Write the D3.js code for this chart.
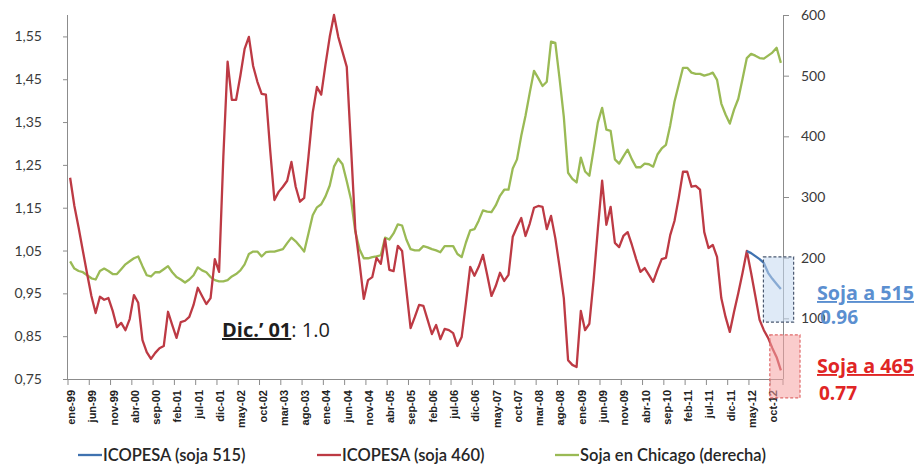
<!DOCTYPE html>
<html><head><meta charset="utf-8">
<script src="https://cdn.jsdelivr.net/npm/d3@7"></script>
<style>
html,body{margin:0;padding:0;background:#fff;}
svg{display:block;}
</style></head>
<body>
<svg id="chart" width="918" height="466"></svg>
<script>
// ---------- DATA ----------
const monthNames = ["ene","feb","mar","abr","may","jun","jul","ago","sep","oct","nov","dic"];
const years = ["99","00","01","02","03","04","05","06","07","08","09","10","11","12"];
const categories = [];
years.forEach(y => monthNames.forEach(m => categories.push(m + "-" + y)));

const tickLabels = ["ene-99","jun-99","nov-99","abr-00","sep-00","feb-01","jul-01","dic-01","may-02","oct-02",
  "mar-03","ago-03","ene-04","jun-04","nov-04","abr-05","sep-05","feb-06","jul-06","dic-06","may-07","oct-07",
  "mar-08","ago-08","ene-09","jun-09","nov-09","abr-10","sep-10","feb-11","jul-11","dic-11","may-12","oct-12"];

const leftTicks = [0.75,0.85,0.95,1.05,1.15,1.25,1.35,1.45,1.55];
const rightTicks = [100,200,300,400,500,600];

// ICOPESA (soja 460)
const icopesa460 = [
 1.22,1.154,1.103,1.049,0.995,0.944,0.904,0.942,0.935,0.939,
 0.909,0.871,0.881,0.864,0.890,0.946,0.928,0.841,0.813,0.797,
 0.811,0.822,0.827,0.907,0.876,0.846,0.883,0.886,0.895,0.923,
 0.963,0.944,0.925,0.939,1.030,1.000,1.269,1.491,1.402,1.402,
 1.458,1.521,1.549,1.481,1.444,1.416,1.414,1.285,1.168,1.187,
 1.199,1.213,1.257,1.199,1.164,1.173,1.269,1.372,1.432,1.414,
 1.484,1.549,1.600,1.549,1.514,1.479,1.292,1.100,1.021,0.937,
 0.981,0.988,1.033,1.019,1.077,1.005,1.002,1.061,1.049,0.958,
 0.869,0.895,0.923,0.921,0.888,0.855,0.876,0.843,0.867,0.864,
 0.857,0.827,0.848,0.928,1.012,0.991,1.012,1.040,0.993,0.944,
 0.967,0.998,0.979,0.993,1.082,1.105,1.126,1.084,1.113,1.150,
 1.154,1.152,1.100,1.131,1.079,1.012,0.939,0.794,0.783,0.778,
 0.909,0.864,0.879,0.981,1.100,1.213,1.110,1.152,1.068,1.058,
 1.084,1.093,1.063,1.030,1.000,1.009,0.993,0.977,1.005,1.030,
 1.033,1.086,1.119,1.173,1.234,1.234,1.199,1.201,1.192,1.093,
 1.056,1.063,1.035,0.939,0.895,0.860,0.907,0.951,0.998,1.049,
 0.998,0.944,0.888,0.864,0.846,0.822,0.801,0.77];

// ICOPESA (soja 515) – only last months
const icopesa515Start = 159;
const icopesa515 = [1.049,1.044,1.037,1.030,1.021,0.998,0.984,0.972,0.96];

// Soja en Chicago (derecha)
const sojaChicago = [
 194,182,178,176,171,166,164,178,182,178,
 173,173,181,189,194,199,202,186,171,169,
 176,176,181,186,176,168,164,159,164,171,
 184,179,176,168,163,161,161,163,169,173,
 179,189,206,210,210,202,209,210,210,212,
 214,224,233,227,219,210,240,270,283,288,
 301,319,350,363,354,326,296,243,214,199,
 199,201,202,204,233,230,240,255,253,230,
 214,212,212,219,217,214,212,209,219,219,
 219,206,201,225,245,247,261,278,276,275,
 286,302,312,312,347,362,401,434,472,508,
 496,483,490,556,554,495,432,340,330,324,
 365,342,335,378,423,447,411,409,362,355,
 367,378,362,349,349,355,354,350,370,380,
 386,418,457,485,513,513,505,503,503,500,
 502,505,493,454,436,421,444,462,495,529,
 536,533,529,528,533,538,546,521];

const legendItems = [
  {label:"ICOPESA (soja 515)", color:"#3f72b0"},
  {label:"ICOPESA (soja 460)", color:"#bd3a44"},
  {label:"Soja en Chicago (derecha)", color:"#9aba55"}
];

// ---------- LAYOUT ----------
const svg = d3.select("#chart");
const L = 68, R = 783, T = 15, B = 379;
const n = categories.length;
const xPos = d3.scaleLinear().domain([0, n]).range([L, R]);
const cx = i => xPos(i + 0.5);
const yL = d3.scaleLinear().domain([0.75, 1.6]).range([B, T]);
const yR = d3.scaleLinear().domain([0, 600]).range([B, T]);

const axisColor = "#8c8c8c";
const textColor = "#3a3a3a";
const font = "Lato, 'Open Sans', 'Liberation Sans', sans-serif";

svg.append("defs").append("clipPath").attr("id","plotclip")
  .append("rect").attr("x",L).attr("y",T-2).attr("width",R-L).attr("height",B-T+4);

// Left axis
const leftAxis = d3.axisLeft(yL).tickValues(leftTicks).tickSize(5).tickPadding(21)
  .tickFormat(d => d3.format(".2f")(d).replace(".", ","));
const gL = svg.append("g").attr("transform",`translate(${L},0)`).call(leftAxis);
gL.select(".domain").attr("d", `M-0.5,${T}V${B}`).attr("stroke",axisColor);
gL.selectAll(".tick line").attr("stroke",axisColor);
gL.selectAll(".tick text").attr("fill",textColor).style("font-family",font).style("font-size","14px");

// Right axis
const rightAxis = d3.axisRight(yR).tickValues(rightTicks).tickSize(6).tickPadding(12);
const gR = svg.append("g").attr("transform",`translate(${R},0)`).call(rightAxis);
gR.select(".domain").attr("d", `M0.5,${T}V${B}`).attr("stroke",axisColor);
gR.selectAll(".tick line").attr("stroke",axisColor);
gR.selectAll(".tick text").attr("fill",textColor).style("font-family",font).style("font-size","14px");

// Bottom axis
const gB = svg.append("g");
gB.append("line").attr("x1",L).attr("x2",R).attr("y1",B+0.5).attr("y2",B+0.5).attr("stroke",axisColor);
const tickIdx = tickLabels.map(t => categories.indexOf(t));
gB.selectAll("line.tk").data(tickIdx.concat([n])).join("line").attr("class","tk")
  .attr("x1",d=>xPos(d)).attr("x2",d=>xPos(d)).attr("y1",B).attr("y2",B+6).attr("stroke",axisColor);
gB.selectAll("text").data(tickLabels).join("text")
  .attr("transform",d=>`translate(${cx(categories.indexOf(d))+1},${B+11}) rotate(-90)`)
  .attr("text-anchor","end").attr("dy","0.35em")
  .attr("fill","#222").style("font-family","'Liberation Sans', Arial, sans-serif")
  .style("font-size","11px").style("font-weight","bold")
  .text(d=>d);

// Lines
const plot = svg.append("g").attr("clip-path","url(#plotclip)");
const lineL = d3.line().x(d=>cx(d.i)).y(d=>yL(d.v));
const lineR = d3.line().x(d=>cx(d.i)).y(d=>yR(d.v));

plot.append("path").datum(sojaChicago.map((v,i)=>({i,v})))
  .attr("d",lineR).attr("fill","none").attr("stroke",legendItems[2].color)
  .attr("stroke-width",2.3).attr("stroke-linejoin","round");
plot.append("path").datum(icopesa460.map((v,i)=>({i,v})))
  .attr("d",lineL).attr("fill","none").attr("stroke",legendItems[1].color)
  .attr("stroke-width",2.3).attr("stroke-linejoin","round");
plot.append("path").datum(icopesa515.map((v,k)=>({i:icopesa515Start+k,v})))
  .attr("d",lineL).attr("fill","none").attr("stroke",legendItems[0].color)
  .attr("stroke-width",2.3).attr("stroke-linejoin","round");

// Annotation boxes
svg.append("rect")
  .attr("x",xPos(163.4)).attr("y",yL(1.035))
  .attr("width",xPos(170.5)-xPos(163.4)).attr("height",yL(0.883)-yL(1.035))
  .attr("fill","#c5d8f0").attr("fill-opacity",0.55)
  .attr("stroke","#4a5870").attr("stroke-width",1.2).attr("stroke-dasharray","3,2");
svg.append("rect")
  .attr("x",xPos(164.9)).attr("y",yL(0.853))
  .attr("width",xPos(172)-xPos(164.9)).attr("height",yL(0.706)-yL(0.853))
  .attr("fill","#f5a3a3").attr("fill-opacity",0.55)
  .attr("stroke","#e06a6a").attr("stroke-width",1.2).attr("stroke-dasharray","3,2");

// Annotation texts
const ann = svg.append("g").style("font-family","'Open Sans', 'Liberation Sans', sans-serif")
  .style("font-weight","bold").style("font-size","19px");
ann.append("text").attr("x",817).attr("y",300).attr("fill","#5b8fd0")
  .attr("text-decoration","underline").attr("textLength",97).attr("lengthAdjust","spacingAndGlyphs").text("Soja a 515");
ann.append("text").attr("x",820).attr("y",324).attr("fill","#5b8fd0").text("0.96");
ann.append("text").attr("x",817).attr("y",373).attr("fill","#e02525")
  .attr("text-decoration","underline").attr("textLength",97).attr("lengthAdjust","spacingAndGlyphs").text("Soja a 465");
ann.append("text").attr("x",819).attr("y",400).attr("fill","#e02525").text("0.77");

const dic = svg.append("text").attr("x",222).attr("y",337)
  .attr("fill","#1e1e1e").style("font-family","'Open Sans', 'Liberation Sans', sans-serif").style("font-size","20px");
dic.append("tspan").style("font-weight","bold").attr("text-decoration","underline").text("Dic.’ 01");
dic.append("tspan").text(": 1.0");

// Legend
const legendX = [78, 317, 555];
const lg = svg.append("g");
legendItems.forEach((d,k) => {
  lg.append("line").attr("x1",legendX[k]).attr("x2",legendX[k]+24).attr("y1",455).attr("y2",455)
    .attr("stroke",d.color).attr("stroke-width",2.3);
  lg.append("text").attr("x",legendX[k]+25).attr("y",455).attr("dy","0.35em")
    .attr("fill","#262626").style("font-family",font).style("font-size","16.5px").style("font-weight","600").text(d.label);
});
</script>
</body></html>
